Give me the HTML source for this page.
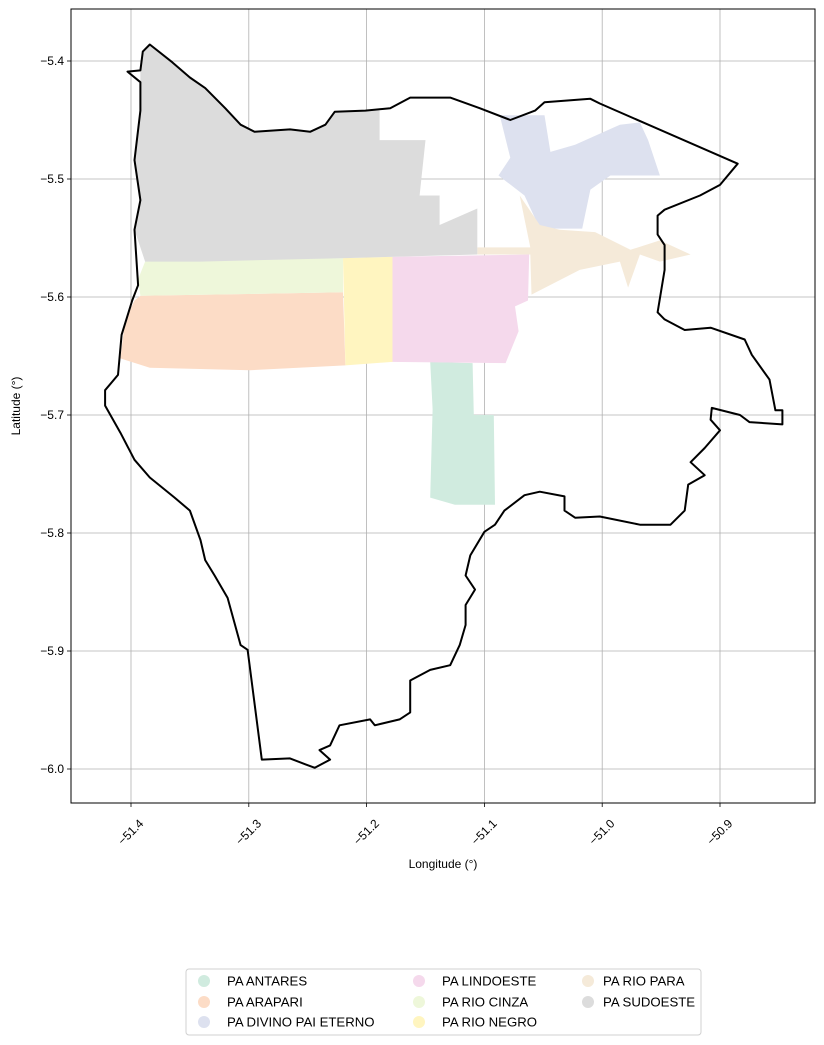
<!DOCTYPE html>
<html><head><meta charset="utf-8"><style>
body{margin:0;background:#fff;}
svg{display:block;font-family:"Liberation Sans","DejaVu Sans",sans-serif;}
</style></head><body>
<svg id="chart" width="824" height="1045" xmlns="http://www.w3.org/2000/svg"></svg>
<script>
const xTicks=[-51.4,-51.3,-51.2,-51.1,-51.0,-50.9];
const xTickLabels=["\u221251.4","\u221251.3","\u221251.2","\u221251.1","\u221251.0","\u221250.9"];
const yTicks=[-5.4,-5.5,-5.6,-5.7,-5.8,-5.9,-6.0];
const yTickLabels=["\u22125.4","\u22125.5","\u22125.6","\u22125.7","\u22125.8","\u22125.9","\u22126.0"];
const outline=[[-51.403,-5.409],[-51.392,-5.408],[-51.390,-5.392],[-51.384,-5.386],[-51.365,-5.401],[-51.350,-5.414],[-51.337,-5.423],[-51.320,-5.440],[-51.307,-5.454],[-51.295,-5.460],[-51.265,-5.458],[-51.248,-5.460],[-51.235,-5.454],[-51.227,-5.443],[-51.201,-5.442],[-51.180,-5.440],[-51.163,-5.431],[-51.129,-5.431],[-51.104,-5.440],[-51.078,-5.450],[-51.057,-5.442],[-51.049,-5.435],[-51.010,-5.432],[-51.002,-5.436],[-50.885,-5.487],[-50.900,-5.505],[-50.917,-5.514],[-50.947,-5.526],[-50.953,-5.531],[-50.953,-5.547],[-50.947,-5.556],[-50.947,-5.577],[-50.953,-5.613],[-50.947,-5.619],[-50.930,-5.628],[-50.908,-5.626],[-50.879,-5.636],[-50.873,-5.649],[-50.858,-5.670],[-50.853,-5.696],[-50.847,-5.696],[-50.847,-5.708],[-50.875,-5.706],[-50.883,-5.700],[-50.907,-5.694],[-50.908,-5.704],[-50.900,-5.713],[-50.913,-5.728],[-50.925,-5.740],[-50.913,-5.751],[-50.927,-5.759],[-50.930,-5.781],[-50.942,-5.793],[-50.968,-5.793],[-51.002,-5.786],[-51.023,-5.787],[-51.032,-5.781],[-51.032,-5.769],[-51.053,-5.765],[-51.066,-5.768],[-51.083,-5.781],[-51.091,-5.793],[-51.100,-5.799],[-51.112,-5.819],[-51.116,-5.836],[-51.108,-5.848],[-51.116,-5.861],[-51.116,-5.878],[-51.121,-5.895],[-51.129,-5.912],[-51.146,-5.916],[-51.163,-5.925],[-51.163,-5.952],[-51.172,-5.958],[-51.193,-5.963],[-51.197,-5.958],[-51.223,-5.963],[-51.231,-5.980],[-51.240,-5.984],[-51.231,-5.992],[-51.244,-5.999],[-51.252,-5.996],[-51.265,-5.991],[-51.289,-5.992],[-51.301,-5.899],[-51.307,-5.895],[-51.318,-5.855],[-51.329,-5.836],[-51.337,-5.823],[-51.341,-5.806],[-51.350,-5.781],[-51.363,-5.770],[-51.384,-5.753],[-51.397,-5.738],[-51.409,-5.715],[-51.422,-5.692],[-51.422,-5.679],[-51.411,-5.666],[-51.408,-5.632],[-51.399,-5.603],[-51.394,-5.590],[-51.397,-5.543],[-51.392,-5.518],[-51.397,-5.484],[-51.392,-5.442],[-51.392,-5.418]];
const sudoeste=[[-51.392,-5.408],[-51.390,-5.392],[-51.384,-5.386],[-51.365,-5.401],[-51.350,-5.414],[-51.337,-5.423],[-51.320,-5.440],[-51.307,-5.454],[-51.295,-5.460],[-51.265,-5.458],[-51.248,-5.460],[-51.235,-5.454],[-51.227,-5.443],[-51.189,-5.441],[-51.189,-5.467],[-51.150,-5.467],[-51.155,-5.514],[-51.138,-5.514],[-51.138,-5.539],[-51.106,-5.525],[-51.106,-5.564],[-51.218,-5.567],[-51.341,-5.570],[-51.388,-5.570],[-51.397,-5.543],[-51.392,-5.518],[-51.397,-5.484],[-51.392,-5.442]];
const rioCinza=[[-51.388,-5.570],[-51.220,-5.567],[-51.220,-5.596],[-51.392,-5.599],[-51.394,-5.585]];
const arapari=[[-51.392,-5.599],[-51.220,-5.596],[-51.218,-5.658],[-51.299,-5.662],[-51.384,-5.660],[-51.409,-5.652],[-51.405,-5.620],[-51.397,-5.603]];
const rioNegro=[[-51.220,-5.567],[-51.178,-5.566],[-51.178,-5.655],[-51.218,-5.658]];
const lindoeste=[[-51.181,-5.566],[-51.062,-5.564],[-51.063,-5.603],[-51.074,-5.608],[-51.071,-5.629],[-51.082,-5.656],[-51.180,-5.655]];
const antares=[[-51.146,-5.655],[-51.110,-5.656],[-51.109,-5.700],[-51.092,-5.700],[-51.091,-5.776],[-51.125,-5.776],[-51.146,-5.770],[-51.144,-5.695]];
const rioPara=[[-51.106,-5.558],[-51.061,-5.558],[-51.070,-5.514],[-51.053,-5.539],[-51.036,-5.543],[-51.006,-5.545],[-50.976,-5.560],[-50.951,-5.552],[-50.925,-5.564],[-50.951,-5.570],[-50.968,-5.564],[-50.978,-5.592],[-50.985,-5.570],[-51.019,-5.577],[-51.060,-5.598],[-51.061,-5.564],[-51.106,-5.564]];
const divino=[[-51.087,-5.446],[-51.049,-5.446],[-51.044,-5.477],[-51.023,-5.471],[-50.985,-5.454],[-50.968,-5.452],[-50.961,-5.467],[-50.951,-5.497],[-50.993,-5.497],[-51.010,-5.509],[-51.017,-5.542],[-51.053,-5.542],[-51.066,-5.514],[-51.088,-5.497],[-51.078,-5.482]];
const legendNames=["PA ANTARES","PA ARAPARI","PA DIVINO PAI ETERNO","PA LINDOESTE","PA RIO CINZA","PA RIO NEGRO","PA RIO PARA","PA SUDOESTE"];
const legendColors=["#d0ebdf","#fcdcc6","#dde1ef","#f5d9ec","#eef7da","#fff5c0","#f5ead9","#dcdcdc"];

const NS="http://www.w3.org/2000/svg";
const svg=document.getElementById('chart');
const L=71,R=815,T=9,B=803;
function xs(v){return 131+(v+51.4)*1178;}
function ys(v){return 61+(-5.4-v)*1180;}
function mk(tag,attrs,parent){const e=document.createElementNS(NS,tag);for(const k in attrs)e.setAttribute(k,attrs[k]);(parent||svg).appendChild(e);return e;}
function pts(a){return a.map(p=>xs(p[0]).toFixed(1)+','+ys(p[1]).toFixed(1)).join(' ');}

xTicks.forEach((t,i)=>{const g=mk('line',{x1:xs(t),x2:xs(t),y1:T,y2:B,stroke:'#b0b0b0','stroke-width':0.8});

});
yTicks.forEach((t,i)=>{const g=mk('line',{x1:L,x2:R,y1:ys(t),y2:ys(t),stroke:'#b0b0b0','stroke-width':0.8});

});

const regions=[[antares,0,'region-antares'],[arapari,1,'region-arapari'],[divino,2,'region-divino-pai-eterno'],[lindoeste,3,'region-lindoeste'],[rioCinza,4,'region-rio-cinza'],[rioNegro,5,'region-rio-negro'],[rioPara,6,'region-rio-para'],[sudoeste,7,'region-sudoeste']];
regions.forEach(r=>{const p=mk('polygon',{points:pts(r[0]),fill:legendColors[r[1]],stroke:'none'});

});
const ol=mk('polygon',{points:pts(outline),fill:'none',stroke:'#000','stroke-width':2,'stroke-linejoin':'round','stroke-linecap':'round'});



const fr=mk('rect',{x:L,y:T,width:R-L,height:B-T,fill:'none',stroke:'#000','stroke-width':1});



xTicks.forEach((t,i)=>{mk('line',{x1:xs(t),x2:xs(t),y1:B,y2:B+4,stroke:'#000','stroke-width':0.8});
const x=xs(t)+7,y=B+15;
const tx=mk('text',{x:x,y:y,'font-size':12,'text-anchor':'end',transform:`rotate(-45 ${x} ${y})`,'dominant-baseline':'hanging'});
tx.textContent=xTickLabels[i];

});
yTicks.forEach((t,i)=>{mk('line',{x1:L-4,x2:L,y1:ys(t),y2:ys(t),stroke:'#000','stroke-width':0.8});
const tx=mk('text',{x:L-7,y:ys(t)+4,'font-size':12,'text-anchor':'end'});
tx.textContent=yTickLabels[i];

});

const xt=mk('text',{x:443,y:868,'font-size':12,'text-anchor':'middle'});xt.textContent='Longitude (°)';


const yt=mk('text',{x:20,y:406,'font-size':12,'text-anchor':'middle',transform:'rotate(-90 20 406)'});yt.textContent='Latitude (°)';



const lb=mk('rect',{x:186,y:969,width:515,height:66,rx:3,fill:'#fff',stroke:'#d0d0d0','stroke-width':1});


const colX=[204,419,588],txX=[227,442,603],rowY=[981,1002,1022];
legendNames.forEach((n,i)=>{const c=Math.floor(i/3),r=i%3;
const g=mk('g',{});


mk('circle',{cx:colX[c],cy:rowY[r],r:6,fill:legendColors[i]},g);
const t=mk('text',{x:txX[c],y:rowY[r]+4.5,'font-size':13.2},g);t.textContent=n;});
</script>
</body></html>
